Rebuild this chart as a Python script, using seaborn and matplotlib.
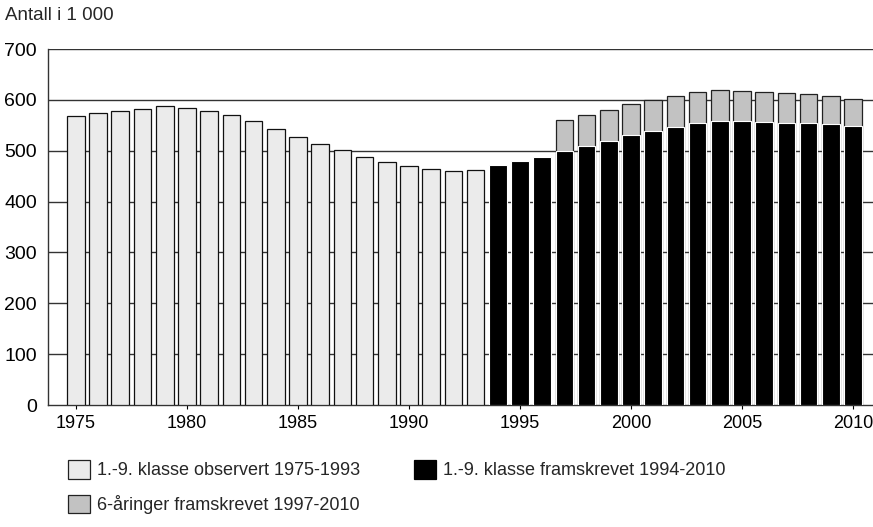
import numpy as np
import pandas as pd
import matplotlib
matplotlib.use("Agg")
import matplotlib.pyplot as plt
import seaborn as sns
from matplotlib.patches import Patch

# ---- data (thousands of pupils) ----
obs_years = list(range(1975, 1994))
obs_values = [569, 575, 578, 583, 587, 584, 579, 571, 558, 542,
              527, 514, 501, 488, 478, 469, 464, 460, 463]

proj_years = list(range(1994, 2011))
proj_values = [472, 480, 488, 499, 510, 520, 531, 539, 547, 555,
               559, 559, 557, 555, 555, 552, 548]

six_years = list(range(1997, 2011))
six_values = [61, 60, 60, 60, 60, 61, 60, 60, 59, 59, 59, 56, 56, 54]

y_ticks = [0, 100, 200, 300, 400, 500, 600, 700]
x_ticks = [1975, 1980, 1985, 1990, 1995, 2000, 2005, 2010]

label_obs = "1.-9. klasse observert 1975-1993"
label_proj = "1.-9. klasse framskrevet 1994-2010"
label_six = "6-åringer framskrevet 1997-2010"
ylabel_text = "Antall i 1 000"

# ---- style ----
sns.set_theme(style="white")
plt.rcParams["font.family"] = ["Liberation Sans", "DejaVu Sans"]

c_obs = "#ebebeb"
c_proj = "#000000"
c_six = "#c2c2c2"

df_obs = pd.DataFrame({"year": obs_years, "value": obs_values})
df_proj = pd.DataFrame({"year": proj_years, "value": proj_values})
proj_map = dict(zip(proj_years, proj_values))
df_tot = pd.DataFrame({"year": six_years,
                       "value": [proj_map[y] + s for y, s in zip(six_years, six_values)]})

fig = plt.figure(figsize=(8.73, 5.27), dpi=100)
ax = fig.add_axes([48 / 873, (527 - 405) / 527, 1 - 48 / 873, (405 - 49) / 527])

sns.barplot(data=df_obs, x="year", y="value", native_scale=True, width=0.8,
            color=c_obs, saturation=1, edgecolor="#111111", linewidth=0.9,
            ax=ax, zorder=3)
sns.barplot(data=df_tot, x="year", y="value", native_scale=True, width=0.8,
            color=c_six, saturation=1, edgecolor="#222222", linewidth=0.9,
            ax=ax, zorder=3)
sns.barplot(data=df_proj, x="year", y="value", native_scale=True, width=0.8,
            color=c_proj, saturation=1, edgecolor="white", linewidth=0.8,
            ax=ax, zorder=4)

ax.set_xlim(1973.74, 2010.9)
ax.set_ylim(0, 700)
ax.set_yticks(y_ticks)
ax.set_yticklabels([str(v) for v in y_ticks])
ax.set_xticks(x_ticks)
ax.set_xticklabels([str(v) for v in x_ticks])
ax.set_xlabel("")
ax.set_ylabel("")

for v in y_ticks[1:]:
    ax.axhline(v, color="#333333", linewidth=1.0, zorder=1)

for side in ["top", "right"]:
    ax.spines[side].set_visible(False)
for side in ["left", "bottom"]:
    ax.spines[side].set_visible(True)
    ax.spines[side].set_color("#333333")
    ax.spines[side].set_linewidth(1.0)

ax.tick_params(axis="y", length=0, pad=8, labelsize=14, colors="black")
ax.tick_params(axis="x", direction="out", length=3, width=0.8, pad=4,
               labelsize=13, colors="black", bottom=True)

fig.text(5 / 873, 1 - 16 / 527, ylabel_text, fontsize=13.5, va="center", ha="left")

handles = [Patch(facecolor=c_obs, edgecolor="#222222", linewidth=0.9, label=label_obs),
           Patch(facecolor=c_six, edgecolor="#222222", linewidth=0.9, label=label_six),
           Patch(facecolor=c_proj, edgecolor="black", linewidth=0.9, label=label_proj)]
fig.legend(handles=handles, loc="upper left", bbox_to_anchor=(68 / 873, 1 - 460 / 527),
           ncol=2, frameon=False, fontsize=13, handlelength=1.2, handleheight=1.2,
           handletextpad=0.4, labelspacing=0.85, columnspacing=3.0, borderaxespad=0,
           borderpad=0)

fig.savefig("out.png", dpi=100)
